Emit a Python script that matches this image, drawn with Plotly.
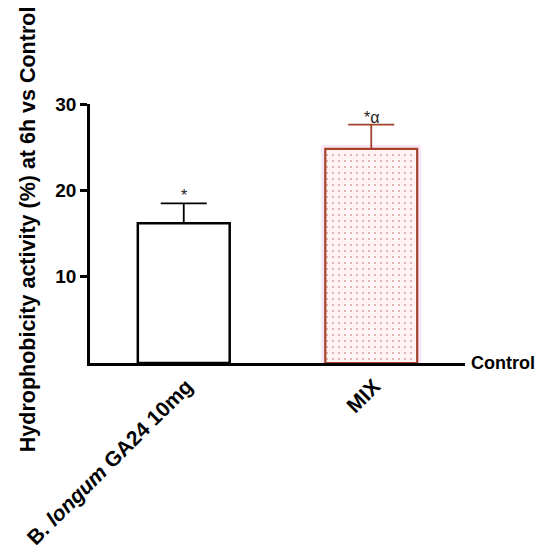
import plotly.graph_objects as go

# data
groups = ["B. <i>longum</i> GA24 10mg", "MIX"]
means = [16.2, 24.8]
errors = [2.3, 2.8]
marks = ["*", "*α"]
y_ticks = [10, 20, 30]

FONT = "Arial, Liberation Sans, sans-serif"

fig = go.Figure()

# pink glow behind the MIX bar
fig.add_trace(go.Bar(x=[groups[1]], y=[means[1]], width=0.49,
                     marker=dict(color="#fce6f5",
                                 line=dict(color="#fce6f5", width=8)),
                     hoverinfo="skip", showlegend=False))

# B. longum bar, plain white
fig.add_trace(go.Bar(x=[groups[0]], y=[means[0]], width=0.49,
                     marker=dict(color="white",
                                 line=dict(color="black", width=2.5)),
                     error_y=dict(type="data", array=[errors[0]], visible=True,
                                  symmetric=False, arrayminus=[0],
                                  color="black", thickness=1.8, width=23),
                     showlegend=False))

# MIX bar, dotted pattern
fig.add_trace(go.Bar(x=[groups[1]], y=[means[1]], width=0.49,
                     marker=dict(color="#fff3f6",
                                 line=dict(color="#a3432b", width=2.2),
                                 pattern=dict(shape=".", fgcolor="#b25a50",
                                              bgcolor="#fff3f6", size=6,
                                              solidity=0.1)),
                     error_y=dict(type="data", array=[errors[1]], visible=True,
                                  symmetric=False, arrayminus=[0],
                                  color="#a3432b", thickness=1.8, width=23),
                     showlegend=False))

# significance marks above the error bars
for g, m, e, s in zip(groups, means, errors, marks):
    fig.add_annotation(x=g, y=m + e, text=s, showarrow=False,
                       yanchor="bottom", yshift=-3,
                       font=dict(family=FONT, size=16, color="#222"))

fig.add_annotation(xref="paper", x=1, y=0, text="<b>Control</b>",
                   showarrow=False, xanchor="left", yanchor="middle", xshift=4,
                   font=dict(family=FONT, size=18, color="black"))

fig.add_annotation(xref="paper", yref="paper", x=-0.165, y=0.517,
                   text="<b>Hydrophobicity activity (%) at 6h vs Control</b>",
                   textangle=-90, showarrow=False,
                   xanchor="center", yanchor="middle",
                   font=dict(family=FONT, size=21.5, color="black"))

fig.update_layout(
    width=542, height=544,
    margin=dict(l=82, r=85, t=96, b=189, autoexpand=False),
    paper_bgcolor="white", plot_bgcolor="white",
    barmode="overlay",
    font=dict(family=FONT, color="black"),
    xaxis=dict(range=[-0.5, 1.5], categoryorder="array", categoryarray=groups,
               showline=True, linecolor="black", automargin=False,
               linewidth=2.5, ticks="", tickangle=-45, ticklabelshift=3,
               tickfont=dict(family=FONT, size=21, color="black", weight="bold"),
               showgrid=False, zeroline=False),
    yaxis=dict(range=[0, 30], tickvals=y_ticks, showline=True, automargin=False,
               linecolor="black", linewidth=2.5, ticks="outside",
               ticklen=7, tickwidth=2.5, tickcolor="black",
               tickfont=dict(family=FONT, size=19, color="black", weight="bold"),
               showgrid=False, zeroline=False),
)

fig.write_html("out.html")
